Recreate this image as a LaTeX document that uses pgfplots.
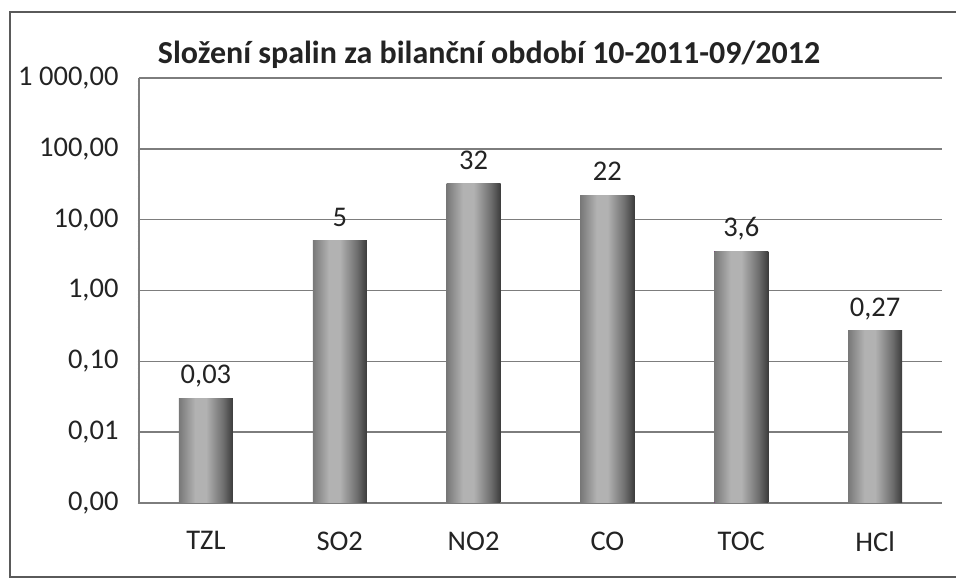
\documentclass[border=0pt]{standalone}
\usepackage{pgfplots}
\pgfplotsset{compat=1.18}
\usepackage{fontspec}
\setmainfont{Carlito}
\definecolor{barL}{RGB}{120,120,120}
\definecolor{barM}{RGB}{178,178,178}
\definecolor{barD}{RGB}{110,110,110}
\definecolor{barR}{RGB}{60,60,60}
\definecolor{gridc}{RGB}{125,125,125}
\definecolor{framec}{RGB}{90,90,90}
\definecolor{txt}{RGB}{35,35,35}
\pgfdeclarehorizontalshading{barshade}{100bp}{color(0bp)=(barL); color(25bp)=(barL); color(40bp)=(barM); color(50bp)=(barM); color(66bp)=(barD); color(75bp)=(barR); color(100bp)=(barR)}
\begin{document}
\begin{tikzpicture}[x=1pt,y=1pt]
\path[use as bounding box] (0,0) rectangle (956,580);
\draw[line width=1.5pt, framec] (975,3) -- (10,3) -- (10,568) -- (975,568);
\node[font=\bfseries\fontsize{32}{38}\selectfont, text=txt] at (489,525) {Složení spalin za bilanční období 10-2011-09/2012};
\begin{axis}[
  at={(139pt,77pt)}, anchor=south west,
  width=803pt, height=425pt, scale only axis,
  ymode=log, log origin=infty,
  ymin=0.001, ymax=1000, xmin=-0.5, xmax=5.5,
  ybar, bar width=54pt, bar shift=0pt,
  xtick={0,1,2,3,4,5}, xticklabels={TZL,SO2,NO2,CO,TOC,HCl},
  ytick={0.001,0.01,0.1,1,10,100,1000},
  yticklabels={{0,00},{0,01},{0,10},{1,00},{10,00},{100,00},{1 000,00}},
  minor ytick={},
  ymajorgrids, grid style={gridc, line width=1.5pt},
  axis x line=bottom, axis y line=left,
  axis line style={gridc, line width=1.5pt, -},
  major tick length=0pt,
  tick label style={font=\fontsize{28.5}{33}\selectfont, text=txt},
  yticklabel style={xshift=-17pt},
  xticklabel style={yshift=-25pt},
  point meta=explicit symbolic,
  nodes near coords,
  nodes near coords style={font=\fontsize{28.5}{33}\selectfont, text=txt, yshift=11pt, text depth=0pt},
  every axis plot/.append style={draw=none, shading=barshade},
]
\addplot coordinates {(0,0.03) [0,03]};
\addplot coordinates {(1,5) [5]};
\addplot coordinates {(2,32) [32]};
\addplot coordinates {(3,22) [22]};
\addplot coordinates {(4,3.6) [3,6]};
\addplot coordinates {(5,0.27) [0,27]};
\end{axis}
\end{tikzpicture}
\end{document}
